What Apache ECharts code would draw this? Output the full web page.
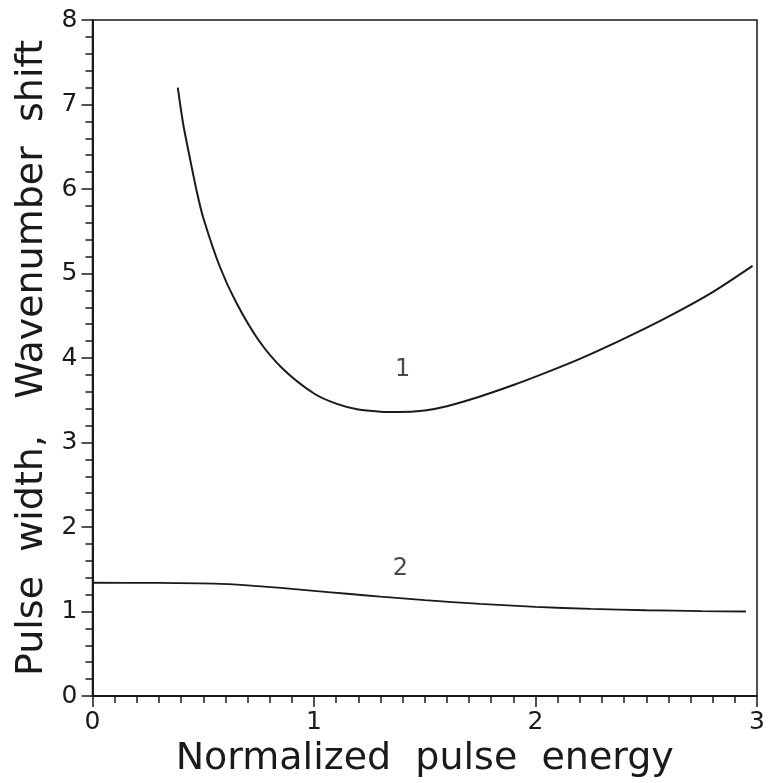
<!DOCTYPE html>
<html>
<head>
<meta charset="utf-8">
<script src="https://cdn.jsdelivr.net/npm/echarts@6/dist/echarts.min.js"></script>
<style>html,body{margin:0;padding:0;background:#fff;}#c{width:769px;height:783px;}</style>
</head>
<body>
<div id="c"></div>
<script>
// Curve 1
const curve1X = [0.385, 0.41, 0.44, 0.47, 0.50, 0.575, 0.65, 0.75, 0.86, 1.0, 1.1, 1.2, 1.3, 1.38, 1.5, 1.6, 1.75, 1.9, 2.05, 2.2, 2.4, 2.6, 2.8, 2.98];
const curve1Y = [7.20, 6.76, 6.36, 5.98, 5.66, 5.08, 4.65, 4.21, 3.87, 3.58, 3.46, 3.39, 3.365, 3.36, 3.38, 3.43, 3.545, 3.68, 3.83, 3.99, 4.23, 4.49, 4.78, 5.09];
// Curve 2
const curve2X = [0.0, 0.3, 0.55, 0.7, 0.85, 1.0, 1.15, 1.3, 1.5, 1.75, 2.0, 2.25, 2.5, 2.75, 2.95];
const curve2Y = [1.34, 1.338, 1.33, 1.31, 1.28, 1.245, 1.21, 1.175, 1.135, 1.09, 1.055, 1.03, 1.015, 1.005, 1.0];
// Curve labels
const labelText = ["1", "2"];
const labelX = [1.40, 1.39];
const labelY = [3.86, 1.51];

const xTicks = ["0", "1", "2", "3"];
const yTicks = ["0", "1", "2", "3", "4", "5", "6", "7", "8"];

const zip = (a, b) => a.map((v, i) => [v, b[i]]);
const font = "DejaVu Sans";
const ink = "#1a1a1a";

const chart = echarts.init(document.getElementById('c'), null, {renderer: 'canvas'});
chart.setOption({
  animation: false,
  backgroundColor: '#fff',
  grid: {left: 92.5, right: 12, top: 20, bottom: 87, show: true, borderColor: ink, borderWidth: 1.5, backgroundColor: 'transparent'},
  xAxis: {
    type: 'value', min: 0, max: 3, interval: 1,
    name: 'Normalized  pulse  energy', nameLocation: 'middle', nameGap: 42,
    nameTextStyle: {fontFamily: font, fontSize: 38, color: ink},
    axisLine: {show: true, lineStyle: {color: ink, width: 2}},
    axisTick: {show: true, inside: false, length: 11, lineStyle: {color: ink, width: 1.5}},
    minorTick: {show: true, splitNumber: 10, length: 7, lineStyle: {color: ink, width: 1.5}},
    axisLabel: {fontFamily: font, fontSize: 25, color: ink, margin: 14, formatter: v => xTicks[Math.round(v)]},
    splitLine: {show: false}
  },
  yAxis: {
    type: 'value', min: 0, max: 8, interval: 1,
    name: 'Pulse  width,   Wavenumber  shift', nameLocation: 'middle', nameGap: 38,
    nameTextStyle: {fontFamily: font, fontSize: 38, color: ink},
    axisLine: {show: true, lineStyle: {color: ink, width: 2}},
    axisTick: {show: true, inside: false, length: 11, lineStyle: {color: ink, width: 1.5}},
    minorTick: {show: true, splitNumber: 5, length: 7, lineStyle: {color: ink, width: 1.5}},
    axisLabel: {fontFamily: font, fontSize: 25, color: ink, margin: 15, formatter: v => yTicks[Math.round(v)]},
    splitLine: {show: false}
  },
  series: [
    {type: 'line', data: zip(curve1X, curve1Y), smooth: 0.25, showSymbol: false, lineStyle: {color: ink, width: 2}},
    {type: 'line', data: zip(curve2X, curve2Y), smooth: 0.25, showSymbol: false, lineStyle: {color: ink, width: 1.8}},
    {type: 'scatter', symbolSize: 0, data: zip(labelX, labelY).map((p, i) => ({value: p, name: labelText[i]})),
     label: {show: true, position: 'inside', formatter: p => p.name, fontFamily: font, fontSize: 24, color: ink}}
  ]
});
</script>
</body>
</html>
